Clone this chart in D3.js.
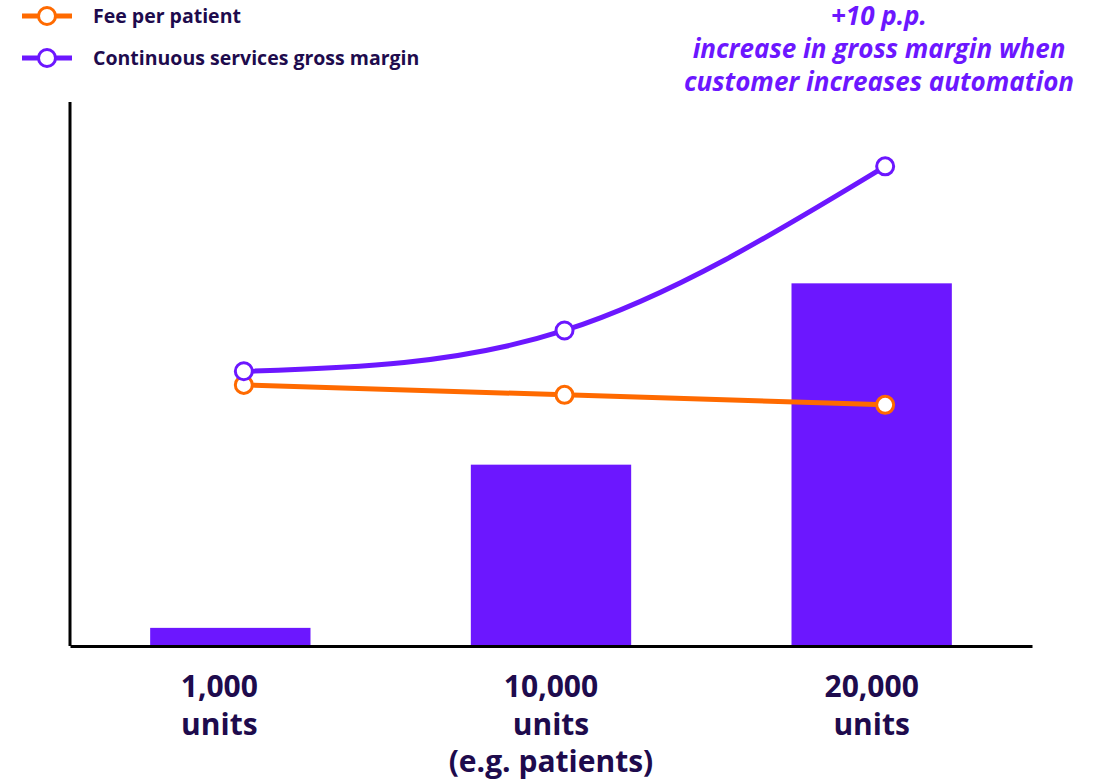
<!DOCTYPE html>
<html><head><meta charset="utf-8">
<script src="https://cdn.jsdelivr.net/npm/d3@7"></script>
<style>body{margin:0;background:#fff}svg{display:block}</style>
</head><body>
<svg id="c" width="1106" height="780"></svg>
<script>
const categories = ["1,000", "10,000", "20,000"];
const categoryLines = [["1,000","units"],["10,000","units","(e.g. patients)"],["20,000","units"]];
const barValues = [1, 10, 20];
const feeValues = [14.4, 13.85, 13.3];
const marginValues = [15.15, 17.4, 26.45];
const seriesNames = ["Fee per patient", "Continuous services gross margin"];
const annotationLines = ["+10 p.p.", "increase in gross margin when", "customer increases automation"];

const purple = "#6c17ff", orange = "#ff6a00", dark = "#1e0b4d";
const font = "'Open Sans', sans-serif";
const svg = d3.select("#c");

const x = d3.scaleBand().domain(categories).range([70, 1032]).paddingInner(0.5).paddingOuter(0.25);
const y = d3.scaleLinear().domain([0, 30]).range([646, 102]);
const ptOffset = 13.5;
const px = (d, i) => x(categories[i]) + x.bandwidth() / 2 + ptOffset;

// bars
svg.append("g").selectAll("rect").data(barValues).join("rect")
  .attr("x", (d, i) => x(categories[i]))
  .attr("width", x.bandwidth())
  .attr("y", d => y(d))
  .attr("height", d => y(0) - y(d))
  .attr("fill", purple);

// axes
const xAxis = d3.axisBottom(x).tickSize(0).tickFormat("");
svg.append("g").attr("transform", `translate(0,${y(0)})`).call(xAxis)
  .call(g => g.select(".domain").attr("stroke", "#000").attr("stroke-width", 3));
const yAxis = d3.axisLeft(y).tickSize(0).tickValues([]);
svg.append("g").attr("transform", `translate(70,0)`).call(yAxis)
  .call(g => g.select(".domain").attr("stroke", "#000").attr("stroke-width", 3).attr("d", `M0,${y(30)}V${y(0)}`));

// x labels
const lbl = svg.append("g");
categoryLines.forEach((lines, i) => {
  const t = lbl.append("text")
    .attr("x", x(categories[i]) + x.bandwidth() / 2 - (i === 0 ? 11 : 0))
    .attr("y", 697)
    .attr("text-anchor", "middle")
    .attr("font-family", font).attr("font-weight", 700).attr("font-size", 30)
    .attr("fill", dark);
  lines.forEach((l, j) => t.append("tspan").attr("x", t.attr("x")).attr("dy", j === 0 ? 0 : 37.5).text(l));
});

// lines
const lineLinear = d3.line().x((d, i) => px(d, i)).y(d => y(d));
const lineCurve = d3.line().x((d, i) => px(d, i)).y(d => y(d)).curve(d3.curveNatural);

svg.append("path").attr("d", lineLinear(feeValues)).attr("fill", "none")
  .attr("stroke", orange).attr("stroke-width", 5);
svg.append("path").attr("d", lineCurve(marginValues)).attr("fill", "none")
  .attr("stroke", purple).attr("stroke-width", 5);

function markers(vals, color) {
  svg.append("g").selectAll("circle").data(vals).join("circle")
    .attr("cx", (d, i) => px(d, i)).attr("cy", d => y(d)).attr("r", 8.5)
    .attr("fill", "#fff").attr("stroke", color).attr("stroke-width", 3);
}
markers(feeValues, orange);
markers(marginValues, purple);

// legend
const legColors = [orange, purple];
const leg = svg.append("g");
seriesNames.forEach((n, i) => {
  const cy = 16 + i * 42;
  leg.append("line").attr("x1", 22).attr("x2", 72).attr("y1", cy).attr("y2", cy)
    .attr("stroke", legColors[i]).attr("stroke-width", 5);
  leg.append("circle").attr("cx", 47).attr("cy", cy).attr("r", 8.5)
    .attr("fill", "#fff").attr("stroke", legColors[i]).attr("stroke-width", 3);
  leg.append("text").attr("x", 93).attr("y", cy + 7).text(n)
    .attr("font-family", font).attr("font-weight", 700).attr("font-size", 19.5).attr("fill", dark);
});

// annotation
const ann = svg.append("text").attr("text-anchor", "middle")
  .attr("font-family", font).attr("font-weight", 700).attr("font-style", "italic")
  .attr("font-size", 26).attr("fill", purple);
annotationLines.forEach((l, j) => ann.append("tspan").attr("x", 879).attr("y", 25 + j * 33).text(l));
</script>
</body></html>
